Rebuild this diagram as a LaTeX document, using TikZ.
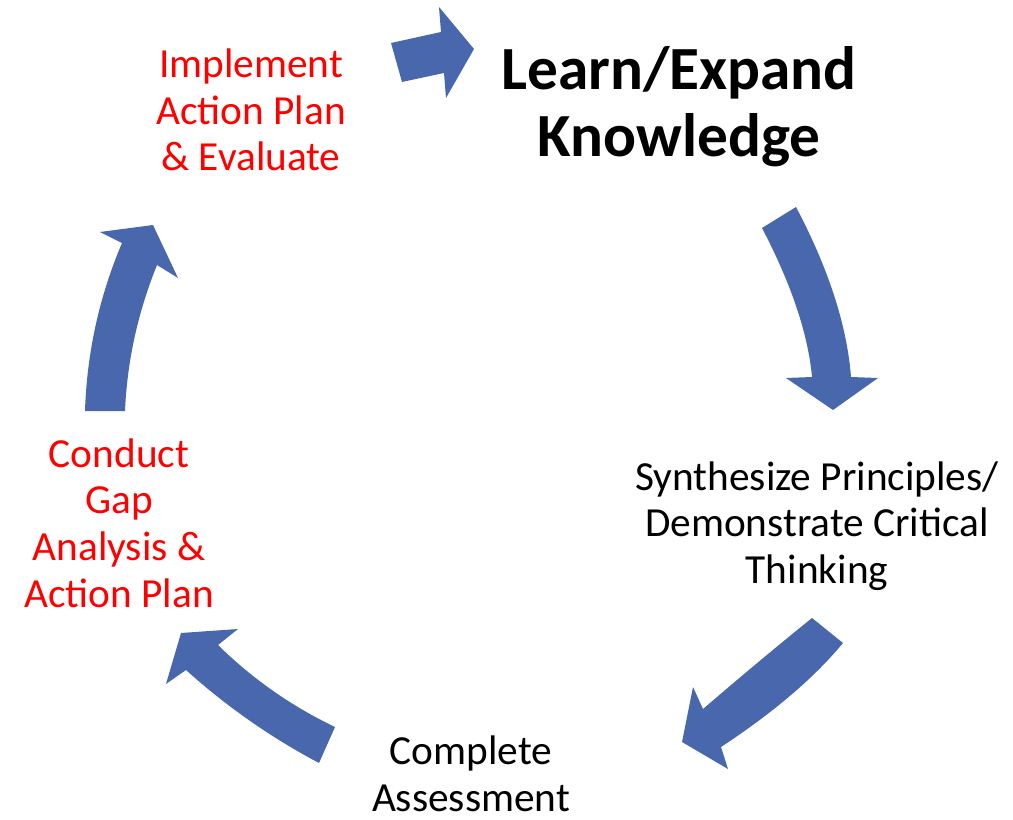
\documentclass[tikz,border=0pt]{standalone}
\usepackage{fontspec}
\setmainfont{Carlito}
\usepackage{xcolor}
\usepackage{tikz}
\usetikzlibrary{positioning}
\definecolor{cycleblue}{RGB}{72,103,172}
\definecolor{stepred}{RGB}{255,0,0}
\tikzset{
    steptext/.style={
        align=center, inner sep=0pt,
        font=\fontsize{31}{35}\selectfont
    },
    todotext/.style={
        steptext, text=stepred
    },
    keytext/.style={
        align=center, inner sep=0pt,
        font=\fontsize{46}{50}\selectfont\bfseries
    },
    cyclearrow/.style={
        fill=cycleblue, draw=none
    }
}
\begin{document}
\begin{tikzpicture}[x=0.75pt, y=-0.75pt]

        \useasboundingbox (0,0) rectangle (1013,820);

        % Steps
        \node[keytext] (learn) at (679,107) {Learn/Expand\\Knowledge};
        \node[steptext] (synth) at (817,526) {Synthesize Principles/\\Demonstrate Critical\\Thinking};
        \node[steptext] (assess) at (471,774) {Complete\\Assessment};
        \node[todotext] (gap) at (119,523) {Conduct\\Gap\\Analysis \&\\Action Plan};
        \node[todotext] (implement) at (251,110) {Implement\\Action Plan\\\& Evaluate};

        % Block arrows
        \fill[cyclearrow] (391,43) -- (441,32) -- (439,7) -- (474,49)
            -- (446,98) -- (444,73) -- (402,82) -- cycle;
        \fill[cyclearrow] (762,228) -- (796,207)
            .. controls (828.7,269) and (847,325.7) .. (851,377)
            -- (878,378) -- (833,410) -- (786,378) -- (812,377)
            .. controls (808,333.7) and (791.3,284) .. (762,228) -- cycle;
        \fill[cyclearrow] (812,618) -- (843,643)
            .. controls (814.3,677.7) and (773.7,712.3) .. (721,747)
            -- (728,769) -- (682,742) -- (693,687) -- (703,709)
            .. controls (741,676.3) and (777.3,646) .. (812,618) -- cycle;
        \fill[cyclearrow] (335,727) -- (319,763)
            .. controls (270.9,737.5) and (226.5,706.5) .. (186,670)
            -- (166,684) -- (181,633) -- (238,629) -- (218,645)
            .. controls (252.5,678.9) and (291.5,706.2) .. (335,727) -- cycle;
        \fill[cyclearrow] (85,411) -- (125,411)
            .. controls (127.2,360.5) and (137.9,312.5) .. (157,265)
            -- (178,278) -- (153,225) -- (100,232) -- (122,243)
            .. controls (99.2,296.7) and (86.9,352.7) .. (85,411) -- cycle;

    \end{tikzpicture}
\end{document}
